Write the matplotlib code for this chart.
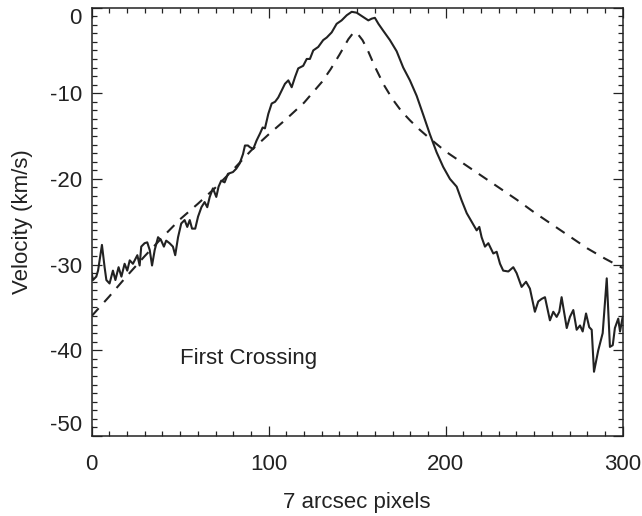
import matplotlib
matplotlib.use("Agg")
import matplotlib.pyplot as plt
from matplotlib.ticker import MultipleLocator

plt.rcParams["font.family"] = ["Liberation Sans", "DejaVu Sans"]
plt.rcParams["axes.unicode_minus"] = False

# observed velocity profile (solid)
obs_x = [0, 0.7, 2.6, 3.6, 5.8, 7.3, 8.3, 10.1, 12, 13.4, 15.2, 16.8, 18.6, 20.1, 21.5,
         23.3, 25.8, 27.1, 28, 29.9, 31.4, 32.8, 34.1, 35.6, 37.5, 39.3, 40.8, 42.1, 44,
         45.9, 47.2, 48.8, 50.6, 52.5, 54, 55.4, 56.7, 58.5, 60.1, 62, 63.8, 65.3, 66.7,
         68.5, 70.4, 71.7, 73.2, 75.1, 77, 79.8, 81.7, 83.6, 85.5, 86.6, 88.3, 89.4, 91.3,
         93.2, 95.1, 96.6, 97.9, 99.8, 101.7, 103.6, 105.4, 107.3, 109.2, 111.1, 113,
         114.9, 116.7, 119.5, 121.5, 123.3, 125.2, 128, 130.8, 132.8, 135.6, 138.4, 141.2,
         144.1, 146.9, 149.7, 153.4, 156.3, 158.2, 160, 162, 164.7, 168.5, 172.3, 176,
         179.8, 183.6, 187.3, 191.1, 194.9, 198.6, 202.4, 206.2, 209, 211.9, 214.7, 217.5,
         219, 220.3, 222.2, 224.1, 226.9, 228.8, 230.7, 232.5, 235.4, 238.2, 240.1, 242.9,
         245.4, 247.6, 250.4, 252.3, 254.2, 256.1, 258.9, 260.8, 262.7, 264.2, 265.5,
         268.4, 270.2, 272.1, 274, 275.9, 277.4, 279.3, 281.1, 282.5, 283.8, 286.2, 288.7,
         291, 292.8, 294.4, 295.6, 297.5, 298.5, 300]
obs_v = [-31.0, -31.8, -31.4, -30.7, -27.7, -30.3, -31.8, -32.2, -30.7, -31.8, -30.3, -31.4,
         -29.9, -30.7, -29.5, -29.9, -28.9, -30.1, -27.9, -27.5, -27.4, -28.3, -30.1, -28.3,
         -26.8, -27.2, -27.9, -27.2, -27.5, -27.9, -28.9, -26.8, -25.2, -24.8, -25.6, -24.8,
         -25.8, -25.8, -24.4, -23.3, -22.7, -23.3, -22.1, -21.1, -22.1, -20.9, -20.2, -20.4,
         -19.4, -19.2, -18.8, -18.2, -17.1, -16.1, -16.1, -16.3, -16.5, -15.5, -14.7, -14.0,
         -14.1, -12.4, -11.2, -11.0, -10.5, -9.7, -8.9, -8.5, -9.3, -8.1, -7.1, -6.8, -6.0,
         -6.0, -5.0, -4.6, -3.8, -3.5, -2.9, -1.9, -1.5, -0.9, -0.5, -0.6, -1.1, -1.5, -1.3,
         -1.2, -1.9, -2.7, -3.8, -5.1, -7.0, -8.5, -10.3, -12.5, -14.8, -16.9, -18.6, -20.0,
         -20.9, -22.5, -24.0, -25.0, -26.0, -25.6, -26.8, -27.9, -27.5, -28.7, -28.5, -29.9,
         -30.7, -30.8, -30.3, -31.0, -32.6, -32.0, -32.8, -35.5, -34.3, -34.0, -33.8, -36.5,
         -35.5, -36.1, -35.5, -33.8, -37.4, -36.1, -35.3, -37.6, -37.1, -37.8, -35.7, -37.3,
         -37.6, -42.5, -40.0, -38.0, -31.6, -39.6, -39.4, -37.4, -36.3, -37.8, -36.1]

# model profile (dashed)
model_x = [0, 10, 20, 30, 40, 50, 60, 70, 80, 90, 100, 110, 120, 130, 135, 140, 145, 148,
           150, 153, 156, 160, 165, 170, 175, 180, 185, 190, 200, 210, 220, 230, 240, 250,
           260, 270, 280, 290, 300]
model_v = [-36.0, -33.7, -31.3, -29.0, -26.8, -24.7, -22.9, -21.0, -18.9, -16.7, -14.8,
           -13.0, -11.1, -8.7, -7.2, -5.5, -3.7, -2.9, -3.0, -3.8, -5.0, -6.9, -9.0, -10.7,
           -12.1, -13.2, -14.2, -15.1, -16.8, -18.2, -19.6, -21.0, -22.4, -23.9, -25.3,
           -26.7, -28.1, -29.3, -30.4]

ink = "#222222"

fig = plt.figure(figsize=(6.42, 5.16), dpi=100)
ax = fig.add_axes([0.1428, 0.155, 0.8271, 0.8304])

ax.plot(obs_x, obs_v, color=ink, lw=1.5)
ax.plot(model_x, model_v, color=ink, lw=1.5, linestyle=(0, (5, 4)))

ax.set_xlim(0, 300)
ax.set_ylim(-50, 0)
ax.xaxis.set_major_locator(MultipleLocator(100))
ax.xaxis.set_minor_locator(MultipleLocator(10))
ax.yaxis.set_major_locator(MultipleLocator(10))
ax.yaxis.set_minor_locator(MultipleLocator(1))
ax.tick_params(which="both", direction="in", top=True, right=True, color=ink,
               width=0.9, labelsize=16, labelcolor=ink)
ax.tick_params(which="major", length=7.5)
ax.tick_params(which="minor", length=3.6)
ax.tick_params(axis="x", pad=13)
ax.tick_params(axis="y", pad=7)
for s in ax.spines.values():
    s.set_color(ink)
    s.set_linewidth(1.1)

ax.set_xlabel("7 arcsec pixels", fontsize=16, color=ink, labelpad=12)
ax.set_ylabel("Velocity (km/s)", fontsize=16, color=ink, labelpad=12)
ax.text(50, -41, "First Crossing", fontsize=16, color=ink, va="center", ha="left")

# keep the end labels inside the frame, as in the original
fig.canvas.draw()
for tick in ax.yaxis.get_major_ticks():
    v = tick.get_loc()
    if abs(v) < 1e-9:
        tick.label1.set_va("top")
    elif abs(v + 50) < 1e-9:
        tick.label1.set_va("bottom")

fig.savefig("out.png", dpi=100)
